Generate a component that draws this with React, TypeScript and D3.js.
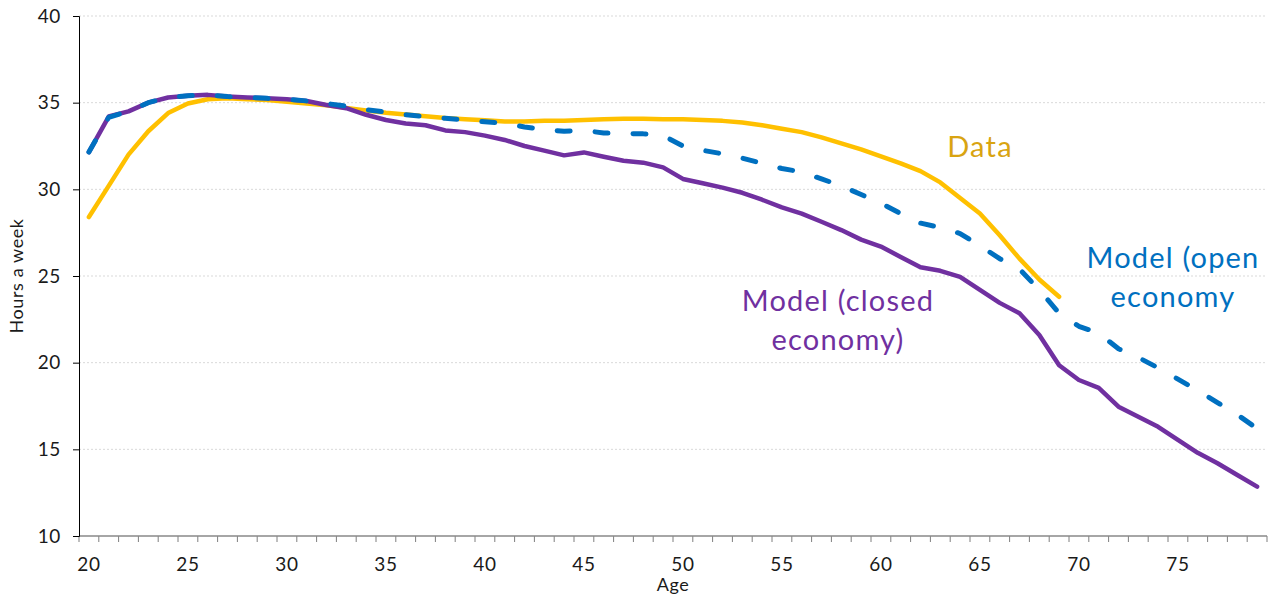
import React, { useEffect, useRef } from "react";
import * as d3 from "d3";

const ages = [
  20, 21, 22, 23, 24, 25, 26, 27, 28, 29, 30, 31, 32, 33, 34, 35, 36, 37, 38, 39,
  40, 41, 42, 43, 44, 45, 46, 47, 48, 49, 50, 51, 52, 53, 54, 55, 56, 57, 58, 59,
  60, 61, 62, 63, 64, 65, 66, 67, 68, 69, 70, 71, 72, 73, 74, 75, 76, 77, 78, 79,
];

// observed hours, ages 20-69
const dataHours = [
  28.4, 30.2, 32.0, 33.35, 34.4, 34.95, 35.2, 35.25, 35.2, 35.15,
  35.05, 34.95, 34.85, 34.7, 34.55, 34.42, 34.32, 34.22, 34.12, 34.05,
  33.98, 33.92, 33.92, 33.95, 33.95, 34.0, 34.05, 34.07, 34.07, 34.05,
  34.05, 34.0, 33.95, 33.85, 33.7, 33.5, 33.3, 33.0, 32.65, 32.3,
  31.9, 31.5, 31.05, 30.4, 29.5, 28.6, 27.35, 26.0, 24.8, 23.8,
];

// model, closed economy, ages 20-79
const closedHours = [
  32.15, 34.2, 34.5, 35.0, 35.3, 35.4, 35.45, 35.35, 35.3, 35.25,
  35.2, 35.1, 34.87, 34.68, 34.3, 34.0, 33.8, 33.7, 33.4, 33.3,
  33.1, 32.85, 32.5, 32.23, 31.96, 32.13, 31.88, 31.65, 31.54, 31.27,
  30.6, 30.35, 30.1, 29.8, 29.4, 28.96, 28.6, 28.13, 27.65, 27.1,
  26.7, 26.1, 25.5, 25.3, 24.95, 24.2, 23.45, 22.85, 21.6, 19.85,
  19.0, 18.55, 17.46, 16.88, 16.3, 15.54, 14.8, 14.2, 13.52, 12.85,
];

// model, open economy, ages 20-79
const openHours = [
  32.15, 34.15, 34.5, 35.0, 35.3, 35.4, 35.45, 35.35, 35.3, 35.25,
  35.2, 35.1, 34.95, 34.8, 34.6, 34.45, 34.3, 34.2, 34.1, 34.0,
  33.9, 33.8, 33.6, 33.45, 33.35, 33.4, 33.25, 33.22, 33.2, 33.1,
  32.5, 32.25, 32.05, 31.8, 31.5, 31.2, 31.0, 30.6, 30.2, 29.7,
  29.2, 28.6, 28.05, 27.8, 27.45, 26.75, 26.0, 25.4, 24.2, 22.85,
  22.1, 21.7, 20.8, 20.3, 19.7, 19.05, 18.4, 17.7, 17.0, 16.2,
];

const yTicks = [10, 15, 20, 25, 30, 35, 40];
const xLabelAges = [20, 25, 30, 35, 40, 45, 50, 55, 60, 65, 70, 75];

const W = 1271;
const H = 599;
const margin = { top: 16, right: 4, bottom: 63, left: 79 };
const font = "Lato, 'Noto Sans', sans-serif";

export default function App() {
  const ref = useRef<SVGSVGElement>(null);

  useEffect(() => {
    const svg = d3.select(ref.current);
    svg.selectAll("*").remove();

    const x = d3.scaleBand<number>()
      .domain(ages)
      .range([margin.left, W - margin.right]);
    const bw = x.bandwidth();
    const cx = (a: number) => (x(a) as number) + bw / 2;
    const y = d3.scaleLinear().domain([10, 40]).range([H - margin.bottom, margin.top]);

    // gridlines
    svg.append("g")
      .selectAll("line")
      .data(yTicks.filter(t => t > 10))
      .join("line")
      .attr("x1", margin.left)
      .attr("x2", W - margin.right)
      .attr("y1", d => y(d))
      .attr("y2", d => y(d))
      .attr("stroke", "#d9d9d9")
      .attr("stroke-width", 1)
      .attr("stroke-dasharray", "2,2");

    // x axis: ticks at category boundaries
    const xAxis = svg.append("g");
    const bounds = ages.map(a => x(a) as number).concat([W - margin.right]);
    xAxis.selectAll("line.tk")
      .data(bounds)
      .join("line")
      .attr("class", "tk")
      .attr("x1", d => d).attr("x2", d => d)
      .attr("y1", y(10)).attr("y2", y(10) + 6)
      .attr("stroke", "#7f7f7f");
    xAxis.append("line")
      .attr("x1", margin.left).attr("x2", W - margin.right)
      .attr("y1", y(10)).attr("y2", y(10))
      .attr("stroke", "#888").attr("stroke-width", 1.5);
    xAxis.selectAll("text")
      .data(xLabelAges)
      .join("text")
      .attr("x", d => cx(d))
      .attr("y", y(10) + 35)
      .attr("text-anchor", "middle")
      .attr("font-family", font)
      .attr("font-size", 19)
      .attr("letter-spacing", 0.6)
      .attr("fill", "#1a1a1a")
      .text(d => d);

    // y axis
    const yAxis = svg.append("g")
      .attr("transform", `translate(${margin.left},0)`)
      .call(d3.axisLeft(y).tickValues(yTicks).tickSize(6).tickPadding(12));
    yAxis.select(".domain").attr("stroke", "#000");
    yAxis.selectAll(".tick line").attr("stroke", "#000");
    yAxis.selectAll(".tick text")
      .attr("font-family", font)
      .attr("font-size", 19)
      .attr("letter-spacing", 0.6)
      .attr("fill", "#1a1a1a");

    // axis titles
    svg.append("text")
      .attr("x", (margin.left + W - margin.right) / 2)
      .attr("y", 591)
      .attr("text-anchor", "middle")
      .attr("font-family", font)
      .attr("font-size", 18)
      .attr("letter-spacing", 0.6)
      .attr("fill", "#1a1a1a")
      .text("Age");
    svg.append("text")
      .attr("transform", `translate(23,${(y(10) + y(40)) / 2}) rotate(-90)`)
      .attr("text-anchor", "middle")
      .attr("font-family", font)
      .attr("font-size", 18)
      .attr("letter-spacing", 0.6)
      .attr("fill", "#1a1a1a")
      .text("Hours a week");

    const line = d3.line<number>()
      .x((d, i) => cx(ages[i]))
      .y(d => y(d));

    svg.append("path")
      .attr("d", line(dataHours))
      .attr("fill", "none")
      .attr("stroke", "#ffc000")
      .attr("stroke-width", 4.5)
      .attr("stroke-linejoin", "round")
      .attr("stroke-linecap", "round");

    svg.append("path")
      .attr("d", line(closedHours))
      .attr("fill", "none")
      .attr("stroke", "#7030a0")
      .attr("stroke-width", 4.5)
      .attr("stroke-linejoin", "round")
      .attr("stroke-linecap", "round");

    svg.append("path")
      .attr("d", line(openHours))
      .attr("fill", "none")
      .attr("stroke", "#0070c0")
      .attr("stroke-width", 5)
      .attr("stroke-dasharray", "13,25")
      .attr("stroke-linejoin", "round")
      .attr("stroke-linecap", "round");

    // series labels
    const labels = [
      { lines: ["Data"], x: 980, y: 157, color: "#d9a411" },
      { lines: ["Model (open", "economy"], x: 1173, y: 268, color: "#0070c0" },
      { lines: ["Model (closed", "economy)"], x: 838, y: 311, color: "#7030a0" },
    ];
    labels.forEach(l => {
      const t = svg.append("text")
        .attr("text-anchor", "middle")
        .attr("font-family", font)
        .attr("font-size", 29)
        .attr("letter-spacing", 1.2)
        .attr("fill", l.color);
      l.lines.forEach((s, i) => {
        t.append("tspan").attr("x", l.x).attr("y", l.y + i * 39).text(s);
      });
    });
  }, []);

  return (
    <svg
      ref={ref}
      width={W}
      height={H}
      style={{ position: "absolute", left: 0, top: 0, background: "#fff" }}
    />
  );
}
